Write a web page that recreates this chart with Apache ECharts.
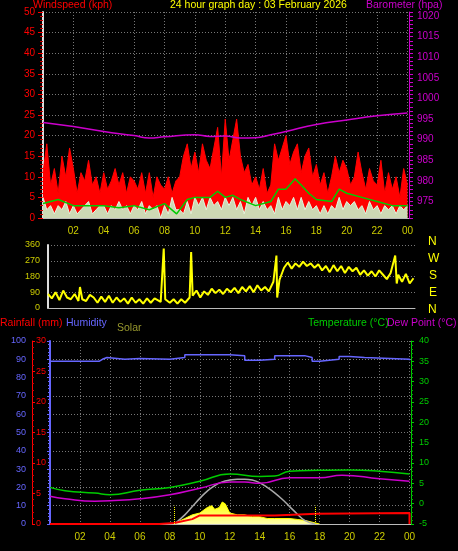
<!DOCTYPE html>
<html><head><meta charset="utf-8">
<script src="https://cdn.jsdelivr.net/npm/echarts@6/dist/echarts.min.js"></script>
<style>html,body{margin:0;background:#000;}#c{width:458px;height:551px;}</style>
</head><body><div id="c"></div>
<script>
const hourTicks = ['00','02','04','06','08','10','12','14','16','18','20','22','00'];
// wind gust every 15 minutes (kph)
const windGust = [11,18,8,12, 6,15,10,17, 12,6,11,9, 14,8,10,6, 11,7,9,12, 8,11,6,10, 9,7,11,6, 11,5,10,8, 7,10,6,9, 10,15,18,12, 16,11,18,14, 12,17,22,10, 24,14,19,24, 15,11,13,8, 10,7,12,6, 8,18,14,17, 20,13,16,18, 11,15,17,10, 13,8,11,6, 10,15,11,14, 12,8,10,16, 11,7,12,9, 8,14,6,11, 7,10,5,12, 8];
// wind speed every 15 minutes
const windSpeed = [5,2,3,1,3,2,4,1,3,1,2,3,4,1,2,3,3,1,3,2,4,2,3,1,3,2,4,1,3,2,3,0,3,1,5,2,2,1,4,1,5,3,5,2,5,3,4,2,5,3,5,2,4,1,5,3,5,2,4,2,3,1,5,2,4,3,5,2,5,2,4,2,3,1,3,1,3,2,5,2,4,3,4,2,3,1,4,2,3,1,3,2,3,1,3,2,3];
// average wind [hour, kph]
const windAvg = [[0,3.5],[1,4.5],[2,3],[3,3],[4,3],[5,2.5],[6,3],[7,2],[8,3.5],[8.8,1],[9.5,4.5],[10,5],[11,5],[11.5,6.5],[12,5],[12.5,5.5],[13,4.5],[14,3],[15,4],[15.5,7],[16,7],[16.6,9.5],[17,8],[17.5,6],[18,4.5],[19,4],[19.5,7],[20,6],[21,5],[22,4],[23,3],[24,3]];
const pressure = [[0,994.2],[2,993.2],[4,992],[6,991],[7,990.4],[8,990.7],[10,991.2],[11,990.8],[12,990.9],[13,990.4],[14,990.5],[15,991.2],[16,992],[18,993.7],[20,994.8],[22,995.8],[24,996.5]];
const windDir = [[0,80],[0.25,55],[0.5,90],[0.75,45],[1,100],[1.25,60],[1.5,50],[1.75,80],[2,40],[2.1,120],[2.25,50],[2.5,40],[2.75,75],[3,60],[3.25,30],[3.5,65],[3.75,35],[4,70],[4.25,30],[4.5,60],[4.75,35],[5,55],[5.25,25],[5.5,60],[5.75,30],[6,50],[6.25,25],[6.5,55],[6.75,30],[7,55],[7.4,35],[7.6,340],[7.7,50],[8,30],[8.25,50],[8.5,25],[8.75,50],[9,30],[9.3,60],[9.4,320],[9.5,70],[9.75,100],[10,60],[10.25,95],[10.5,75],[10.75,110],[11,85],[11.25,105],[11.5,80],[11.75,110],[12,90],[12.25,115],[12.5,85],[12.75,120],[13,95],[13.25,125],[13.5,90],[13.75,130],[14,100],[14.25,120],[14.5,95],[14.8,150],[15,300],[15.05,60],[15.2,160],[15.5,230],[15.75,260],[16,225],[16.25,255],[16.5,235],[16.75,265],[17,240],[17.25,255],[17.5,230],[17.75,250],[18,215],[18.25,240],[18.5,205],[18.75,245],[19,210],[19.25,240],[19.5,200],[19.75,235],[20,210],[20.25,230],[20.5,190],[20.75,215],[21,185],[21.25,210],[21.5,180],[21.75,215],[22,190],[22.25,165],[22.5,200],[22.8,300],[22.9,140],[23,190],[23.25,150],[23.5,195],[23.75,140],[24,170]];
const humidity = [[0,89],[3.3,90],[3.5,91],[3.8,90],[5,90.5],[6,90],[8,91],[9,92.5],[12,92],[13,89.5],[14,90],[15,92],[17,91],[17.5,89],[18,90],[19.3,91.5],[20,91],[21,90],[24,89.5]];
const temperature = [[0,4],[1,3.2],[3,2.6],[4,2.2],[6,3.3],[8,4],[10,5.5],[12,7.3],[14,6.7],[15,6.8],[16,8],[18,8.2],[20,8.3],[22,8],[24,7.3]];
const dewPoint = [[0,1.8],[1,1.2],[3,0.6],[4,0.7],[6,1.2],[8,2.2],[10,3.8],[12,5.3],[13,5.3],[14,5],[16,6.4],[18,6.4],[19.5,7],[22,6.1],[24,5.5]];
const rainfall = [[0,0],[7.3,0],[7.3,0.15],[8.3,0.15],[8.3,0.3],[9.5,0.8],[10,1.4],[15,1.4],[15,1.7],[17.8,1.7],[17.8,1.8],[24,1.8],[24,0]];
const solar = [[8.3,0],[8.5,1],[9,3],[9.5,5],[10,6],[10.5,9],[10.8,10],[11,8],[11.3,9],[11.5,12],[11.7,11],[12,6],[12.5,5],[13,5],[13.5,4],[14,4],[14.5,3],[15,3],[16,3],[16.5,2.5],[17,2],[17.5,1],[18,0]];
const solarMax = [[8.3,0],[9,5],[9.5,9.5],[10,14],[10.5,18],[11,21],[11.5,23],[12,24],[12.5,24.5],[13,24.5],[13.5,24],[14,22.5],[14.5,20],[15,17],[15.5,13.5],[16,9.5],[16.5,5.5],[17,2],[17.7,0]];

const F = 'Liberation Sans, Arial, sans-serif';
const TF = '10.5px '+F;
const dot = {show:true,lineStyle:{color:'#777',type:[1,2],width:1}};
const hourFmt = v => v===0 ? '' : hourTicks[v/2];
function xAx(grid, labels, vsplit){
  return {type:'value',gridIndex:grid,min:0,max:24.1,interval:2,
    axisLine:{show:true,lineStyle:{color:'#bbb'}},axisTick:{show:false},
    axisLabel:{show:labels,color:'#cccc00',fontSize:10,fontFamily:F,formatter:hourFmt,showMaxLabel:false},
    splitLine:vsplit?dot:{show:false}};
}
const gustData = windGust.map((v,i)=>[i*0.25,v]);
const speedData = windSpeed.map((v,i)=>[i*0.25,v]);
const option = {
  backgroundColor:'#000', animation:false,
  grid:[{left:43,right:49,top:12,height:206},{left:48,right:43,top:245,height:63},{left:50,right:47,top:341,height:183}],
  xAxis:[xAx(0,true,true),xAx(1,false,false),xAx(2,true,true)],
  yAxis:[
    {type:'value',gridIndex:0,min:0,max:50,interval:5,axisLine:{show:true,lineStyle:{color:'#ddd',width:2}},axisTick:{show:true,lineStyle:{color:'#f00'}},minorTick:{show:true,splitNumber:5,lineStyle:{color:'#c00'}},axisLabel:{color:'#f00',fontSize:10,fontFamily:F},splitLine:dot},
    {type:'value',gridIndex:0,position:'right',min:971,max:1021,interval:1,axisLine:{show:true,lineStyle:{color:'#c0c'}},axisTick:{show:true,length:4,lineStyle:{color:'#c0c'}},axisLabel:{color:'#c0c',fontSize:10,fontFamily:F,formatter:v=>v%5===0?String(v):''},splitLine:{show:false}},
    {type:'value',gridIndex:1,min:0,max:360,interval:90,axisLine:{show:true,lineStyle:{color:'#ddd',width:2}},axisTick:{show:false},axisLabel:{color:'#cccc00',fontSize:9,fontFamily:F},splitLine:dot},
    {type:'value',gridIndex:2,position:'left',min:0,max:100,interval:10,offset:20,axisLine:{show:true,lineStyle:{color:'#66f',width:2}},axisTick:{show:true,length:3,lineStyle:{color:'#66f'}},minorTick:{show:true,splitNumber:5,length:2,lineStyle:{color:'#66f'}},axisLabel:{color:'#66f',fontSize:9,fontFamily:F,margin:4},splitLine:dot},
    {type:'value',gridIndex:2,position:'left',min:0,max:30,interval:5,offset:18,axisLine:{show:true,lineStyle:{color:'#f00',width:1}},axisTick:{show:true,inside:true,length:3,lineStyle:{color:'#f00'}},minorTick:{show:true,splitNumber:5,length:2,lineStyle:{color:'#c00'}},axisLabel:{inside:true,color:'#f00',fontSize:9,fontFamily:F,margin:4},splitLine:{show:false}},
    {type:'value',gridIndex:2,position:'right',min:-5,max:40,interval:5,axisLine:{show:true,lineStyle:{color:'#0c0'}},axisTick:{show:true,length:3,lineStyle:{color:'#0c0'}},minorTick:{show:true,splitNumber:5,length:2,lineStyle:{color:'#0a0'}},axisLabel:{color:'#0c0',fontSize:9,fontFamily:F},splitLine:{show:false}},
    {type:'value',gridIndex:2,position:'left',min:0,max:100,show:false,splitLine:{show:false}}
  ],
  series:[
    {type:'line',z:2,xAxisIndex:0,yAxisIndex:0,data:gustData,symbol:'none',lineStyle:{color:'#f00',width:1},areaStyle:{color:'#f00',opacity:1}},
    {type:'line',z:3,xAxisIndex:0,yAxisIndex:0,data:speedData,symbol:'none',lineStyle:{color:'#e0f8e0',width:1},areaStyle:{color:'#c8f0c8',opacity:0.9}},
    {type:'line',z:4,xAxisIndex:0,yAxisIndex:0,data:windAvg,symbol:'none',lineStyle:{color:'#00cc00',width:1.5}},
    {type:'line',z:4,xAxisIndex:0,yAxisIndex:1,data:pressure,smooth:true,symbol:'none',lineStyle:{color:'#c0c',width:1.5}},
    {type:'line',xAxisIndex:1,yAxisIndex:2,data:windDir,symbol:'none',lineStyle:{color:'#ff0',width:2}},
    {type:'line',xAxisIndex:2,yAxisIndex:6,data:solar,symbol:'none',lineStyle:{color:'#ff0',width:1},areaStyle:{color:{type:'linear',x:0,y:0,x2:0,y2:1,colorStops:[{offset:0,color:'#ff0'},{offset:1,color:'#ffffaa'}]},opacity:1},
      markLine:{silent:true,symbol:'none',label:{show:false},lineStyle:{color:'#ff0',type:[1,1],width:1},data:[[{coord:[8.3,0]},{coord:[8.3,10]}],[{coord:[17.7,0]},{coord:[17.7,10]}]]}},
    {type:'line',xAxisIndex:2,yAxisIndex:6,data:solarMax,smooth:true,symbol:'none',lineStyle:{color:'#aaa',width:1.5}},
    {type:'line',xAxisIndex:2,yAxisIndex:3,data:humidity,step:'end',symbol:'none',lineStyle:{color:'#6666ff',width:1.5}},
    {type:'line',xAxisIndex:2,yAxisIndex:5,data:temperature,smooth:true,symbol:'none',lineStyle:{color:'#00cc00',width:1.5}},
    {type:'line',xAxisIndex:2,yAxisIndex:5,data:dewPoint,smooth:true,symbol:'none',lineStyle:{color:'#c0c',width:1.5}},
    {type:'line',xAxisIndex:2,yAxisIndex:4,data:rainfall,symbol:'none',lineStyle:{color:'#f00',width:2}}
  ],
  graphic:[
    {type:'text',left:33,top:0,style:{text:'Windspeed (kph)',fill:'#f00',font:TF}},
    {type:'text',left:170,top:0,style:{text:'24 hour graph day : 03 February 2026',fill:'#ff0',font:TF}},
    {type:'text',left:366,top:0,style:{text:'Barometer (hpa)',fill:'#c0c',font:TF}},
    {type:'text',left:428,top:236,style:{text:'N',fill:'#ff0',font:'12px '+F}},
    {type:'text',left:428,top:253,style:{text:'W',fill:'#ff0',font:'12px '+F}},
    {type:'text',left:429,top:270,style:{text:'S',fill:'#ff0',font:'12px '+F}},
    {type:'text',left:429,top:287,style:{text:'E',fill:'#ff0',font:'12px '+F}},
    {type:'text',left:428,top:304,style:{text:'N',fill:'#ff0',font:'12px '+F}},
    {type:'text',left:0,top:318,style:{text:'Rainfall (mm)',fill:'#f00',font:TF}},
    {type:'text',left:66,top:318,style:{text:'Humidity',fill:'#66f',font:TF}},
    {type:'text',left:117,top:323,style:{text:'Solar',fill:'#99992e',font:TF}},
    {type:'text',left:308,top:318,style:{text:'Temperature (°C)',fill:'#0c0',font:TF}},
    {type:'text',left:387,top:318,style:{text:'Dew Point (°C)',fill:'#c0c',font:TF}}
  ]
};
echarts.init(document.getElementById('c')).setOption(option);
</script></body></html>
